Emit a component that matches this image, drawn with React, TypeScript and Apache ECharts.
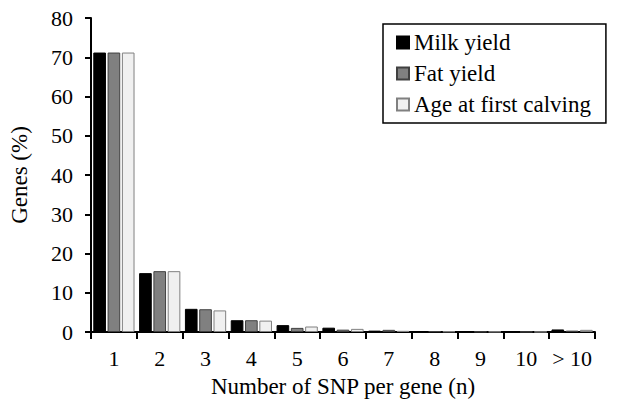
import React, { useEffect, useRef } from "react";
import * as echarts from "echarts";

const categories = ["1", "2", "3", "4", "5", "6", "7", "8", "9", "10", "> 10"];
const milkYield = [71.2, 15.0, 5.9, 3.0, 1.75, 1.1, 0.35, 0.2, 0.1, 0.05, 0.65];
const fatYield = [71.2, 15.5, 5.8, 3.0, 1.05, 0.6, 0.55, 0.2, 0.1, 0.05, 0.35];
const ageFirstCalving = [71.2, 15.5, 5.5, 2.9, 1.4, 0.8, 0.3, 0.15, 0.1, 0.05, 0.55];

const FONT = "Liberation Serif";

export default function App() {
  const ref = useRef<HTMLDivElement>(null);
  useEffect(() => {
    if (!ref.current) return;
    const chart = echarts.init(ref.current, null, { renderer: "svg" });
    chart.setOption({
      animation: false,
      backgroundColor: "#ffffff",
      textStyle: { fontFamily: FONT },
      grid: { left: 91, right: 28, top: 18, bottom: 86 },
      legend: {
        orient: "vertical",
        left: 383,
        top: 24,
        icon: "rect",
        itemWidth: 12,
        itemHeight: 12,
        itemGap: 8,
        padding: [7, 15, 7, 13],
        borderColor: "#000",
        borderWidth: 1.5,
        backgroundColor: "#fff",
        textStyle: { fontSize: 23, fontFamily: FONT, color: "#000" },
        data: ["Milk yield", "Fat yield", "Age at first calving"],
      },
      xAxis: {
        type: "category",
        data: categories,
        name: "Number of SNP per gene (n)",
        nameLocation: "middle",
        nameGap: 43,
        nameTextStyle: { fontSize: 23, fontFamily: FONT, color: "#000" },
        axisLine: { lineStyle: { color: "#000", width: 2 } },
        axisTick: { show: true, length: 7, lineStyle: { color: "#000", width: 2 } },
        axisLabel: { interval: 0, fontSize: 22, fontFamily: FONT, color: "#000", margin: 15 },
      },
      yAxis: {
        type: "value",
        min: 0,
        max: 80,
        interval: 10,
        name: "Genes (%)",
        nameLocation: "middle",
        nameGap: 60,
        nameTextStyle: { fontSize: 23, fontFamily: FONT, color: "#000" },
        axisLine: { show: true, lineStyle: { color: "#000", width: 2 } },
        axisTick: { show: true, length: 6, lineStyle: { color: "#000", width: 2 } },
        axisLabel: { fontSize: 22, fontFamily: FONT, color: "#000", margin: 18 },
        splitLine: { show: false },
      },
      series: [
        {
          name: "Milk yield",
          type: "bar",
          data: milkYield,
          barGap: "13%",
          barCategoryGap: "10%",
          itemStyle: { color: "#000000", borderColor: "#000000", borderWidth: 1 },
        },
        {
          name: "Fat yield",
          type: "bar",
          data: fatYield,
          itemStyle: { color: "#808080", borderColor: "#404040", borderWidth: 1 },
        },
        {
          name: "Age at first calving",
          type: "bar",
          data: ageFirstCalving,
          itemStyle: { color: "#f0f0f0", borderColor: "#808080", borderWidth: 1 },
        },
      ],
    });
    return () => chart.dispose();
  }, []);
  return (
    <div
      ref={ref}
      style={{ position: "fixed", left: 0, top: 0, width: 623, height: 418 }}
    />
  );
}
